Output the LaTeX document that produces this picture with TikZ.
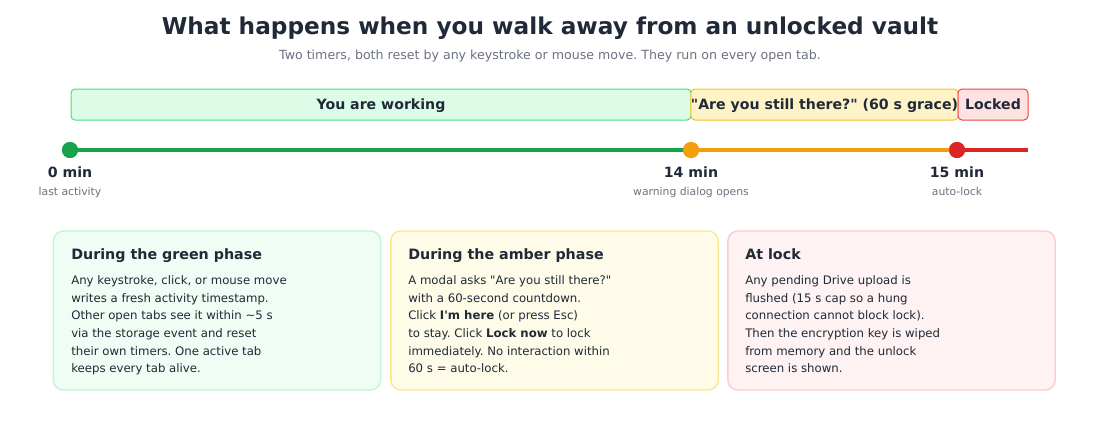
\documentclass[tikz,border=0pt]{standalone}
\usepackage{fontspec}
\setmainfont{DejaVu Sans}[Ligatures=TeXOff]
\usetikzlibrary{positioning}
\definecolor{inkdark}{HTML}{1F2937}
\definecolor{inkgray}{HTML}{6B7280}
\definecolor{workline}{HTML}{16A34A}
\definecolor{graceline}{HTML}{F59E0B}
\definecolor{lockline}{HTML}{DC2626}
\definecolor{workbar}{HTML}{DCFCE7}
\definecolor{workedge}{HTML}{4ADE80}
\definecolor{gracebar}{HTML}{FEF3C7}
\definecolor{graceedge}{HTML}{FBBF24}
\definecolor{lockbar}{HTML}{FEE2E2}
\definecolor{lockedge}{HTML}{EF4444}
\definecolor{workcard}{HTML}{F0FDF4}
\definecolor{workcardedge}{HTML}{BBF7D0}
\definecolor{gracecard}{HTML}{FEFCE8}
\definecolor{gracecardedge}{HTML}{FDE68A}
\definecolor{lockcard}{HTML}{FEF2F2}
\definecolor{lockcardedge}{HTML}{FECACA}
\frenchspacing

\begin{document}
\begin{tikzpicture}[x=0.75pt,y=-0.75pt,
          phase/.style={draw,rounded corners=3pt,line width=0.75pt,
                        minimum height=23.25pt,inner sep=0pt,text=inkdark,
                        text height=7.7pt,text depth=0.3pt,
                        font=\bfseries\fontsize{10.6}{12}\selectfont},
          dot/.style={circle,fill,minimum size=12pt,inner sep=0pt},
          tick/.style={font=\bfseries\fontsize{10.6}{12}\selectfont,text=inkdark},
          sub/.style={font=\fontsize{8.1}{9}\selectfont,text=inkgray},
          card/.style={rounded corners=7.5pt,line width=1pt,
                       minimum width=245.5pt,minimum height=119.25pt},
          cardhead/.style={anchor=base west,inner sep=0pt,text=inkdark,
                           font=\bfseries\fontsize{10.7}{12}\selectfont},
          cardtext/.style={anchor=north west,inner sep=0pt,align=left,text=inkdark,
                           font=\fontsize{8.8}{13.2}\selectfont}]
        \useasboundingbox[fill=white](0,0) rectangle (1100,426);
        \node[font=\bfseries\fontsize{17.4}{20}\selectfont,text=inkdark](title) at (550,28.5)
          {What happens when you walk away from an unlocked vault};
        \node[font=\fontsize{9.45}{11}\selectfont,text=inkgray](subtitle) at (550,56)
          {Two timers, both reset by any keystroke or mouse move. They run on every open tab.};
        % phase bars
        \node[phase,draw=workedge,fill=workbar,minimum width=465pt](working) at (381,104.5)
          {You are working};
        \node[phase,draw=graceedge,fill=gracebar,minimum width=198.75pt](grace) at (824.5,104.5)
          {"Are you still there?" (60 s grace)};
        \node[phase,draw=lockedge,fill=lockbar,minimum width=52.5pt](locked) at (993,104.5)
          {Locked};
        % timeline
        \coordinate (tend) at (1028,150);
        \node[dot,workline](t0) at (70,150){};
        \node[dot,graceline](t14) at (691,150){};
        \node[dot,lockline](t15) at (957,150){};
        \begin{scope}[line width=3pt]
          \draw[workline](t0.center)--(t14.center);
          \draw[graceline](t14.center)--(t15.center);
          \draw[lockline](t15.center)--(tend);
        \end{scope}
        \node[dot,workline] at (t0){};
        \node[dot,graceline] at (t14){};
        \node[dot,lockline] at (t15){};
        \node[tick](m0) at (70,172){0 min};
        \node[tick](m14) at (691,172){14 min};
        \node[tick](m15) at (957,172){15 min};
        \node[sub,below=0pt of m0](s0){last activity};
        \node[sub,below=0pt of m14](s14){warning dialog opens};
        \node[sub,below=0pt of m15](s15){auto-lock};
        % cards
        \node[card,draw=workcardedge,fill=workcard](cgreen) at (217,310.5){};
        \node[card,draw=gracecardedge,fill=gracecard](camber) at (554.5,310.5){};
        \node[card,draw=lockcardedge,fill=lockcard](cred) at (891.5,310.5){};
        \node[cardhead](hgreen) at (71,259){During the green phase};
        \node[cardhead](hamber) at (408,259){During the amber phase};
        \node[cardhead](hred) at (745,259){At lock};
        \node[cardtext](bgreen) at (71,275.5){Any keystroke, click, or mouse move\\
          writes a fresh activity timestamp.\\
          Other open tabs see it within \textasciitilde5 s\\
          via the storage event and reset\\
          their own timers. One active tab\\
          keeps every tab alive.};
        \node[cardtext](bamber) at (408,275.5){A modal asks "Are you still there?"\\
          with a 60-second countdown.\\
          Click \textbf{I'm here} (or press Esc)\\
          to stay. Click \textbf{Lock now} to lock\\
          immediately. No interaction within\\
          60 s = auto-lock.};
        \node[cardtext](bred) at (745,275.5){Any pending Drive upload is\\
          flushed (15 s cap so a hung\\
          connection cannot block lock).\\
          Then the encryption key is wiped\\
          from memory and the unlock\\
          screen is shown.};
      \end{tikzpicture}
\end{document}
